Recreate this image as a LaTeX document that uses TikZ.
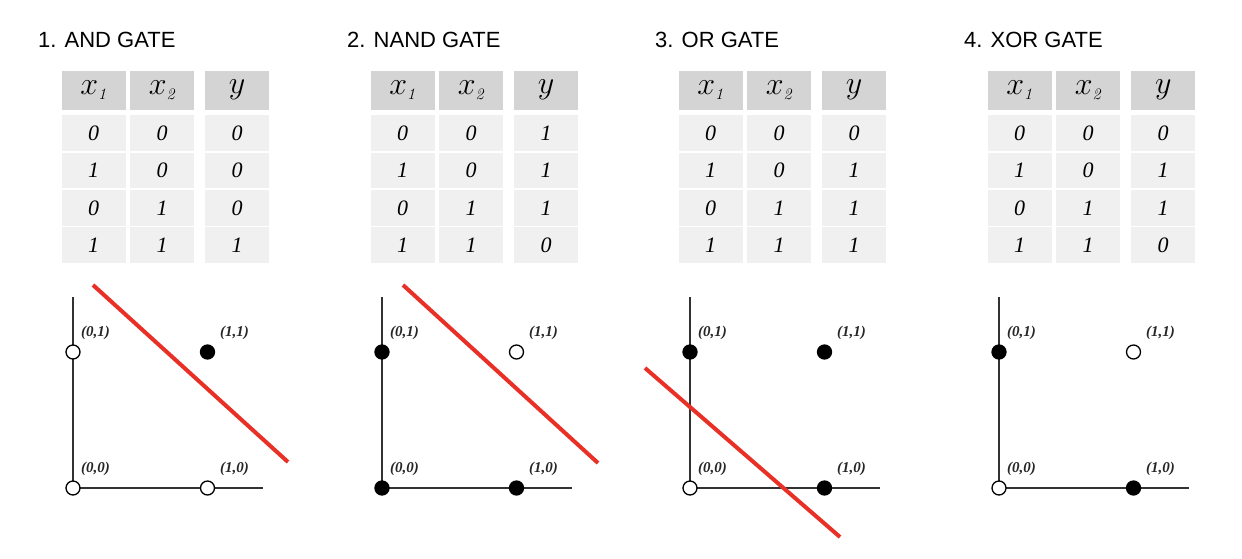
\RequirePackage{fix-cm}
\documentclass[tikz,border=0pt]{standalone}
\usepackage{fontspec}
\setsansfont{Liberation Sans}
\newfontfamily\tabfont{Liberation Serif}
\usepackage{tikz}
\usetikzlibrary{positioning}
\definecolor{headgray}{RGB}{212,212,212}
\definecolor{cellgray}{RGB}{240,240,240}
\definecolor{axisgray}{RGB}{50,50,50}
\definecolor{cutred}{RGB}{232,48,38}

\begin{document}
\begin{tikzpicture}[
    x=1pt, y=-1pt,
    title/.style={anchor=base west, inner sep=0pt, font=\sffamily\fontsize{22}{26}\selectfont},
    head/.style={fill=headgray, minimum width=64pt, minimum height=39pt, inner sep=0pt, font=\fontsize{32}{36}\selectfont},
    cell/.style={fill=cellgray, minimum width=64pt, minimum height=35.5pt, inner sep=0pt, font=\tabfont\itshape\fontsize{22}{26}\selectfont},
    dot0/.style={circle, draw=black, fill=white, line width=1.3pt, minimum size=14pt, inner sep=0pt},
    dot1/.style={circle, draw=black, fill=black, line width=1.3pt, minimum size=14pt, inner sep=0pt},
    ptlabel/.style={inner sep=0pt, anchor=south west, text=black!85, font=\tabfont\bfseries\itshape\fontsize{15}{17}\selectfont},
    axis/.style={draw=axisgray, line width=1.6pt},
    cut/.style={draw=cutred, line width=4pt}
]
    \path[use as bounding box, fill=white] (0,0) rectangle (1242,558);

    \foreach \i/\dx/\name/\ya/\yb/\yc/\yd in {1/0/AND/0/0/0/1, 2/309/NAND/1/1/1/0, 3/617/OR/0/1/1/1, 4/926/XOR/0/1/1/0} {
        \begin{scope}[xshift=\dx pt]
            \node[title] (title\i) at (38,47.3) {\i. \name\ GATE};
            % truth table
            \node[head] (hxa\i) at (93.5,90) {$x_{\scriptscriptstyle\mathit{1}}$};
            \node[head] (hxb\i) at (162,90) {$x_{\scriptscriptstyle\mathit{2}}$};
            \node[head] (hy\i) at (237.2,90) {$y$};
            \foreach \xa/\xb/\yv [count=\k] in {0/0/\ya, 1/0/\yb, 0/1/\yc, 1/1/\yd} {
                \node[cell] (ca\i-\k) at (93.5,{133.2+37.3*(\k-1)}) {\xa};
                \node[cell] (cb\i-\k) at (162,{133.2+37.3*(\k-1)}) {\xb};
                \node[cell] (cy\i-\k) at (237.2,{133.2+37.3*(\k-1)}) {\yv};
            }
            % plane
            \coordinate (o\i) at (73,488);
            \coordinate (xend\i) at (263,488);
            \coordinate (yend\i) at (73,297);
            \draw[axis] (yend\i) -- (o\i) -- (xend\i);
            \node[dot\ya] (p00\i) at (73,488) {};
            \node[dot\yb] (p10\i) at (207.5,488) {};
            \node[dot\yc] (p01\i) at (73,352) {};
            \node[dot\yd] (p11\i) at (207.5,352) {};
            \node[ptlabel, above right=12pt and 8pt of p00\i.center] (l00\i) {(0,0)};
            \node[ptlabel, above right=12pt and 12.5pt of p10\i.center] (l10\i) {(1,0)};
            \node[ptlabel, above right=12pt and 8pt of p01\i.center] (l01\i) {(0,1)};
            \node[ptlabel, above right=12pt and 12.5pt of p11\i.center] (l11\i) {(1,1)};
        \end{scope}
    }

    % separating lines
    \coordinate (cuta1) at (93,285);
    \coordinate (cutb1) at (288,462);
    \coordinate (cuta2) at (403,285);
    \coordinate (cutb2) at (598,463);
    \coordinate (cuta3) at (645,368);
    \coordinate (cutb3) at (840,537);
    \draw[cut] (cuta1) -- (cutb1);
    \draw[cut] (cuta2) -- (cutb2);
    \draw[cut] (cuta3) -- (cutb3);
\end{tikzpicture}
\end{document}
